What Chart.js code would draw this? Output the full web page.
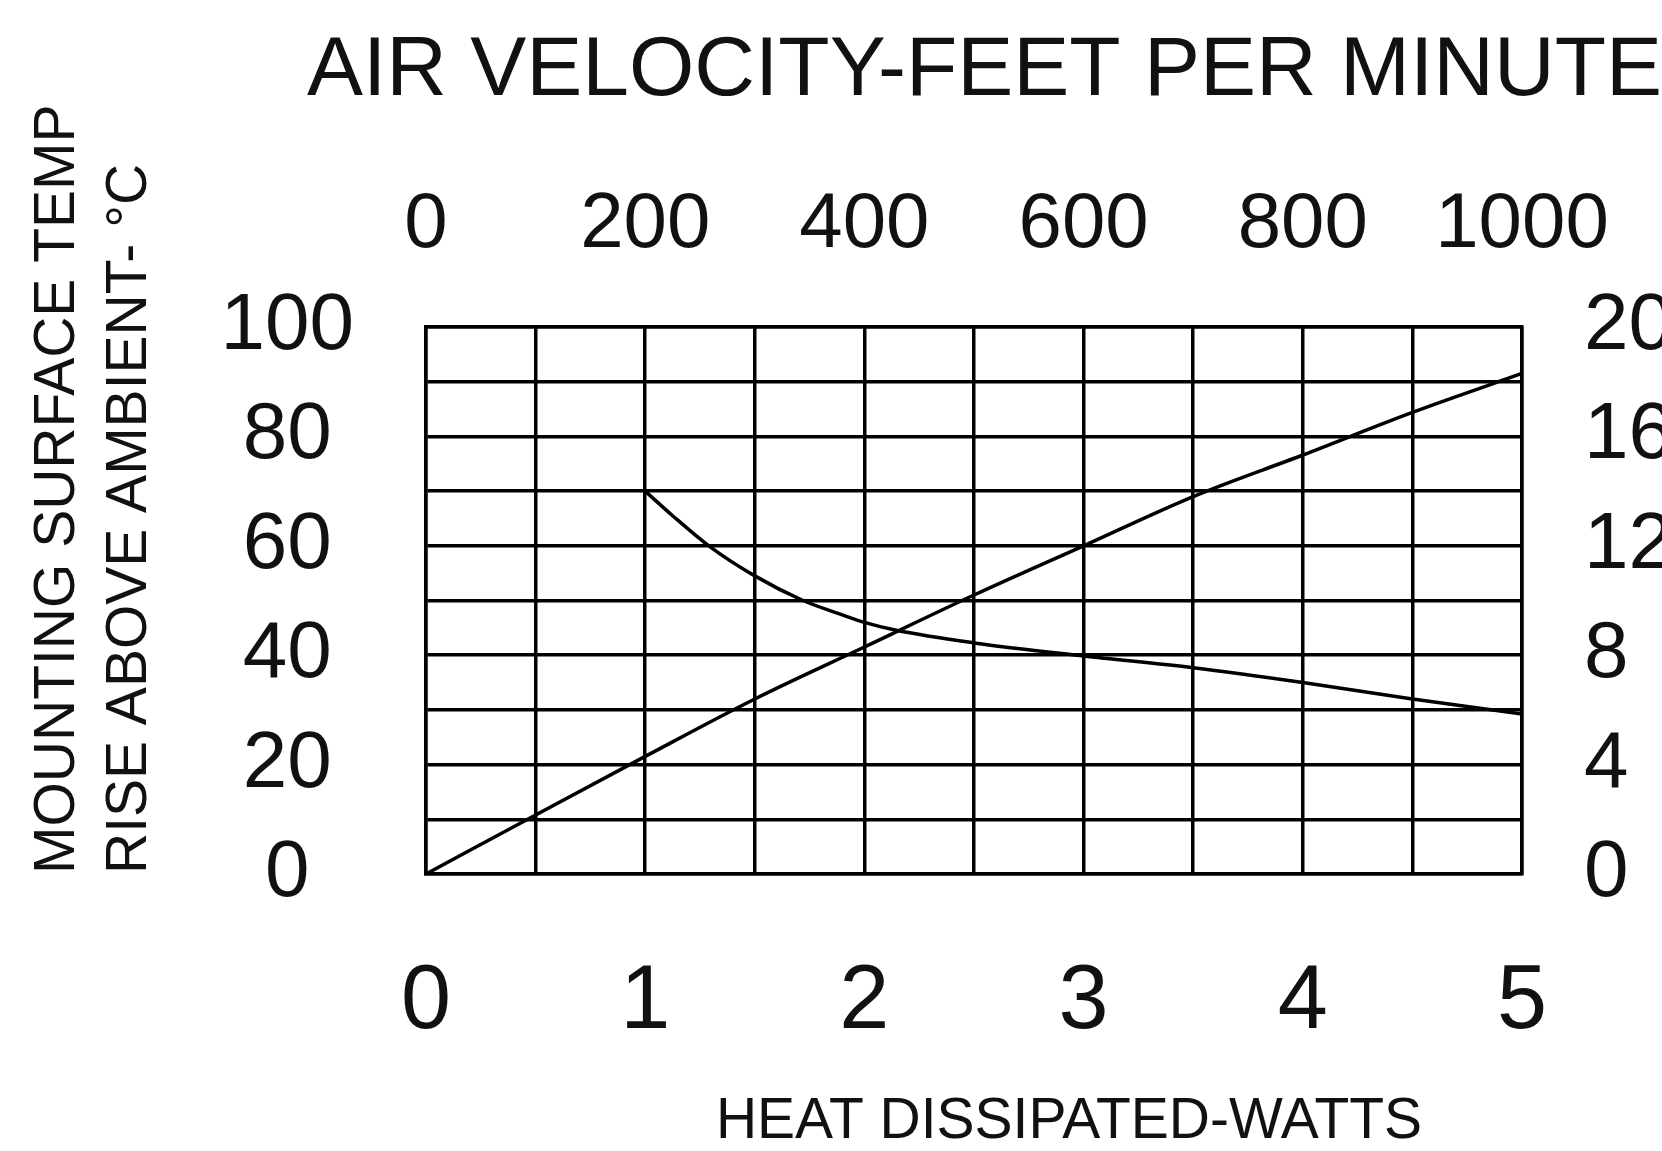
<!DOCTYPE html>
<html>
<head>
<meta charset="utf-8">
<title>Air velocity / heat dissipated</title>
<script src="https://cdn.jsdelivr.net/npm/chart.js@4.4.0/dist/chart.umd.min.js"></script>
<style>
  html, body { margin: 0; padding: 0; background: #fff; overflow: hidden; }
  canvas { display: block; }
</style>
</head>
<body>
<canvas id="myChart" width="1662" height="1151"></canvas>
<script>
// heat dissipated (W) -> mounting surface temp rise (°C), left/bottom scales
const watts = [0, 0.5, 1, 1.5, 2, 2.5, 3, 3.5, 4, 4.5, 5];
const tempRise = [0, 10.8, 21.5, 32, 41.5, 51, 60, 69, 76.6, 84.4, 91.5];

// air velocity (ft/min) -> right-hand scale, top/right scales
const airVelocity = [200, 225, 258, 300, 344, 378, 400, 428, 500, 600, 700, 800, 900, 1000];
const rightValues = [14, 13.1, 12, 10.9, 10, 9.5, 9.2, 8.92, 8.45, 7.97, 7.54, 7.0, 6.4, 5.85];

// tick labels
const wattTicks = [0, 1, 2, 3, 4, 5];
const velocityTicks = [0, 200, 400, 600, 800, 1000];
const leftTicks = [0, 20, 40, 60, 80, 100];
const rightTicks = [0, 4, 8, 12, 16, 20];

const FONT = "'Liberation Sans', Arial, Helvetica, sans-serif";
const INK = '#111';
const LINE = '#000';

const onlyIn = (list) => (v) => list.includes(v) ? String(v) : '';

const ctx = document.getElementById('myChart').getContext('2d');

new Chart(ctx, {
  type: 'line',
  data: {
    datasets: [{
      label: 'Temp rise',
      data: watts.map((w, i) => ({ x: w, y: tempRise[i] })),
      xAxisID: 'x',
      yAxisID: 'y',
      borderColor: LINE,
      borderWidth: 3.5,
      pointRadius: 0,
      cubicInterpolationMode: 'monotone',
      fill: false
    }, {
      label: 'Air velocity',
      data: airVelocity.map((v, i) => ({ x: v, y: rightValues[i] })),
      xAxisID: 'x2',
      yAxisID: 'y2',
      borderColor: LINE,
      borderWidth: 3.5,
      pointRadius: 0,
      cubicInterpolationMode: 'monotone',
      fill: false
    }]
  },
  options: {
    responsive: false,
    animation: false,
    layout: { padding: 0 },
    plugins: {
      legend: { display: false },
      tooltip: { enabled: false },
      title: {
        display: true,
        text: 'AIR VELOCITY-FEET PER MINUTE',
        align: 'end',
        color: INK,
        font: { family: FONT, size: 84, weight: 'normal', lineHeight: 1 },
        padding: { top: 30, bottom: 0 }
      }
    },
    scales: {
      x: {
        type: 'linear',
        position: 'bottom',
        min: 0,
        max: 5,
        grid: { color: LINE, lineWidth: 3.5, drawTicks: false },
        border: { display: true, color: LINE, width: 3.5 },
        ticks: {
          stepSize: 0.5,
          autoSkip: false,
          maxRotation: 0,
          padding: 84,
          color: INK,
          font: { family: FONT, size: 90, lineHeight: 1 },
          callback: onlyIn(wattTicks)
        },
        title: {
          display: true,
          text: ' '.repeat(12) + 'HEAT DISSIPATED-WATTS',
          color: INK,
          font: { family: FONT, size: 57, lineHeight: 1 },
          padding: { top: 0, bottom: 0 }
        },
        afterFit: (scale) => { scale.height = 277; }
      },
      x2: {
        type: 'linear',
        position: 'top',
        min: 0,
        max: 1000,
        grid: { display: false, drawTicks: false },
        border: { display: true, color: LINE, width: 3.5 },
        ticks: {
          stepSize: 100,
          autoSkip: false,
          maxRotation: 0,
          padding: 63,
          color: INK,
          font: { family: FONT, size: 78, lineHeight: 1 },
          callback: onlyIn(velocityTicks)
        },
        afterFit: (scale) => {
          scale.height = 213;
          // keep the "1000" label from narrowing the plot
          scale.paddingRight = 0;
        }
      },
      y: {
        type: 'linear',
        position: 'left',
        min: 0,
        max: 100,
        grid: { color: LINE, lineWidth: 3.5, drawTicks: false },
        border: { display: true, color: LINE, width: 3.5 },
        ticks: {
          stepSize: 10,
          autoSkip: false,
          crossAlign: 'center',
          padding: 72,
          color: INK,
          font: { family: FONT, size: 80, lineHeight: 1 },
          callback: onlyIn(leftTicks)
        },
        title: {
          display: true,
          text: ['MOUNTING SURFACE TEMP', 'RISE ABOVE AMBIENT- °C'],
          align: 'start',
          color: INK,
          font: { family: FONT, size: 57, lineHeight: 1.263 },
          padding: { top: 22, bottom: 0 }
        },
        afterFit: (scale) => { scale.width = 426; }
      },
      y2: {
        type: 'linear',
        position: 'right',
        min: 0,
        max: 20,
        grid: { display: false, drawTicks: false },
        border: { display: true, color: LINE, width: 3.5 },
        ticks: {
          stepSize: 2,
          autoSkip: false,
          padding: 62,
          color: INK,
          font: { family: FONT, size: 80, lineHeight: 1 },
          callback: onlyIn(rightTicks)
        },
        afterFit: (scale) => { scale.width = 140; }
      }
    }
  }
});
</script>
</body>
</html>
